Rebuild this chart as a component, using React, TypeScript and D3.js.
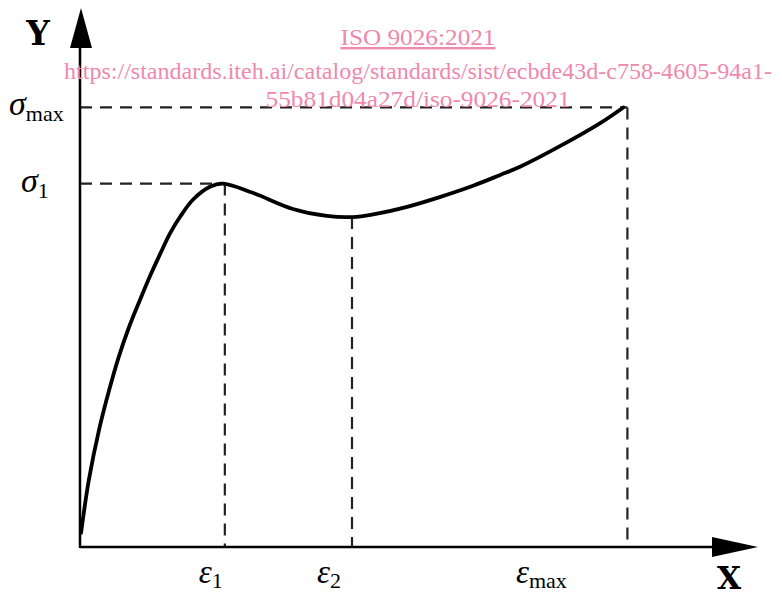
import React, {useEffect, useRef} from 'react';
import * as d3 from 'd3';

// stress-strain curve (arbitrary units 0..100)
const strain = [0.15, 1.3, 2.8, 4.3, 5.7, 7.2, 8.8, 10.3, 11.8, 13.2, 14.7, 16.6, 19.1, 21.0, 25.4, 31.3, 36.3, 40.1, 43.1, 48.1, 52.9, 57.8, 61.8, 64.7, 70.1, 76.5, 79.9];
const stress = [2.6, 12.4, 21.7, 29.1, 35.2, 40.7, 45.7, 50.2, 54.3, 58.0, 61.1, 64.3, 66.7, 67.3, 65.6, 62.6, 61.3, 61.1, 61.6, 63.0, 64.8, 66.9, 68.9, 70.4, 73.9, 78.5, 81.4];

// marked points
const xMarks = [21.3, 40.0, 80.5];
const xMarkY = [67.3, 61.1, 81.4];
const xLabels = ['1', '2', 'max'];
const xLabelShift = [-14, -23, -86];
const yMarks = [81.4, 67.3];
const yMarkX = [80.5, 21.3];
const yLabels = ['max', '1'];

const watermark = [
  'ISO 9026:2021',
  'https://standards.iteh.ai/catalog/standards/sist/ecbde43d-c758-4605-94a1-',
  '55b81d04a27d/iso-9026-2021',
];
const watermarkWidth = [155, 708, 305];

const SERIF = '"Liberation Serif", "Times New Roman", serif';

function App() {
  const ref = useRef<SVGSVGElement>(null);
  const W = 782, H = 596;

  useEffect(() => {
    const svg = d3.select(ref.current);
    svg.selectAll('*').remove();

    const x = d3.scaleLinear().domain([0, 100]).range([80, 760]);
    const y = d3.scaleLinear().domain([0, 100]).range([547, 7]);

    const dash = '12,8';

    // horizontal dashed guides
    yMarks.forEach((v, i) => {
      svg.append('line')
        .attr('x1', x(0)).attr('x2', x(yMarkX[i]))
        .attr('y1', y(v)).attr('y2', y(v))
        .attr('stroke', '#222').attr('stroke-width', 2.2)
        .attr('stroke-dasharray', dash);
    });
    // vertical dashed guides
    xMarks.forEach((v, i) => {
      svg.append('line')
        .attr('x1', x(v)).attr('x2', x(v))
        .attr('y1', y(xMarkY[i])).attr('y2', y(0))
        .attr('stroke', '#222').attr('stroke-width', 2.2)
        .attr('stroke-dasharray', dash);
    });

    // axes
    svg.append('line')
      .attr('x1', x(0)).attr('x2', 715)
      .attr('y1', y(0)).attr('y2', y(0))
      .attr('stroke', '#000').attr('stroke-width', 2.5);
    svg.append('line')
      .attr('x1', x(0)).attr('x2', x(0))
      .attr('y1', y(0) + 1).attr('y2', 45)
      .attr('stroke', '#000').attr('stroke-width', 2.5);
    svg.append('path')
      .attr('d', `M758,${y(0)} L712,${y(0) - 10} L712,${y(0) + 10} Z`)
      .attr('fill', '#000');
    svg.append('path')
      .attr('d', `M${x(0) + 1},8 L${x(0) - 10},48 L${x(0) + 12},48 Z`)
      .attr('fill', '#000');

    // curve
    const pts = strain.map((s, i) => [s, stress[i]] as [number, number]);
    const line = d3.line<[number, number]>()
      .x(d => x(d[0]))
      .y(d => y(d[1]))
      .curve(d3.curveCatmullRom.alpha(0.5));
    svg.append('path')
      .attr('d', line(pts))
      .attr('fill', 'none')
      .attr('stroke', '#000')
      .attr('stroke-width', 3.8)
      .attr('stroke-linecap', 'round');

    // axis titles
    svg.append('text')
      .attr('x', 38).attr('y', 45)
      .attr('text-anchor', 'middle')
      .attr('font-family', '"DejaVu Serif", serif')
      .attr('font-weight', 'bold')
      .attr('font-size', 33)
      .text('Y');
    svg.append('text')
      .attr('x', 729).attr('y', 589)
      .attr('text-anchor', 'middle')
      .attr('font-family', '"DejaVu Serif", serif')
      .attr('font-weight', 'bold')
      .attr('font-size', 31)
      .text('X');

    // sigma labels
    yMarks.forEach((v, i) => {
      const t = svg.append('text')
        .attr('x', yLabels[i] === 'max' ? 9 : 21)
        .attr('y', y(v) + 8)
        .attr('font-family', SERIF);
      t.append('tspan').attr('font-style', 'italic').attr('font-size', 34).text('σ');
      t.append('tspan').attr('font-size', 22).attr('dy', 6).text(yLabels[i]);
    });

    // epsilon labels
    xMarks.forEach((v, i) => {
      const t = svg.append('text')
        .attr('x', x(v) + xLabelShift[i])
        .attr('y', 583)
        .attr('text-anchor', 'middle')
        .attr('font-family', SERIF);
      t.append('tspan').attr('font-style', 'italic').attr('font-size', 33).text('ε');
      t.append('tspan').attr('font-size', 22).attr('dy', 5).text(xLabels[i]);
    });

    // watermark
    [45, 79, 107].forEach((yy, i) => {
      svg.append('text')
        .attr('x', 418)
        .attr('y', yy)
        .attr('text-anchor', 'middle')
        .attr('font-family', SERIF)
        .attr('font-size', 24)
        .attr('fill', '#ee89ad')
        .attr('textLength', watermarkWidth[i])
        .attr('lengthAdjust', 'spacingAndGlyphs')
        .attr('text-decoration', i === 0 ? 'underline' : null)
        .text(watermark[i]);
    });
  }, []);

  return (
    <svg ref={ref} width={W} height={H} viewBox={`0 0 ${W} ${H}`}
      style={{position: 'absolute', left: 0, top: 0, background: '#fff'}}/>
  );
}

export default App;
